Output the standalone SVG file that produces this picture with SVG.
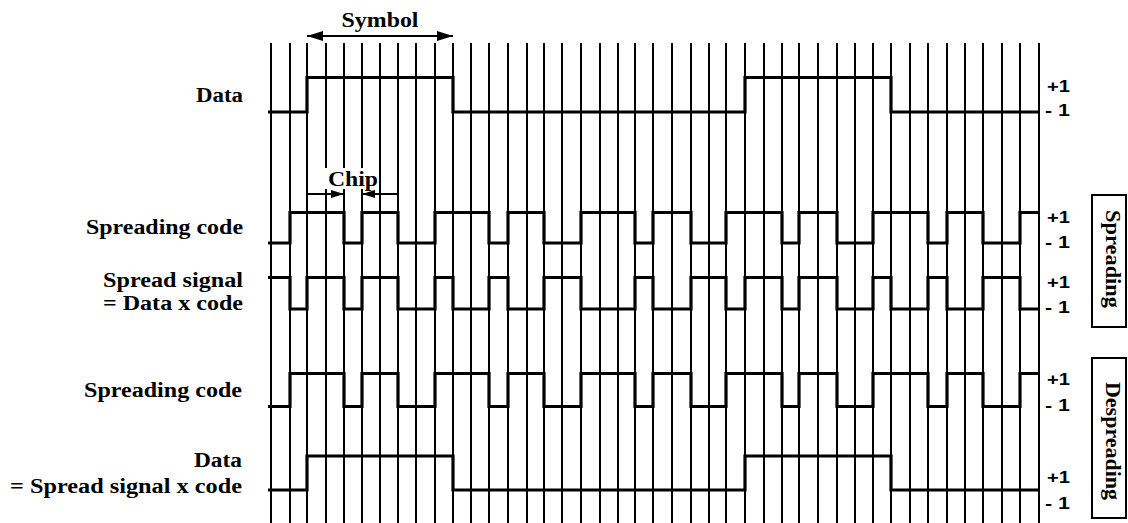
<svg xmlns="http://www.w3.org/2000/svg" width="1128" height="523" viewBox="0 0 1128 523">
<style>
.grid line{stroke:#000;stroke-width:2}
.wave{fill:none;stroke:#000;stroke-width:3.2;stroke-linejoin:miter}
.lbl{font-family:"Liberation Serif","Times New Roman",serif;font-weight:bold;font-size:20px;fill:#000}
.lvl{font-family:"Liberation Sans",Arial,sans-serif;font-weight:bold;font-size:17px;fill:#000}
.arr{stroke:#000;stroke-width:2;fill:none}
.box{fill:#fff;stroke:#000;stroke-width:2}
</style>
<defs>
<marker id="ah" viewBox="0 0 16 10" refX="16" refY="5" markerWidth="16" markerHeight="10" markerUnits="userSpaceOnUse" orient="auto">
<path d="M0,0 L16,5 L0,10 Z" fill="#000"/>
</marker>
<marker id="ahs" viewBox="0 0 13 8" refX="13" refY="4" markerWidth="13" markerHeight="8" markerUnits="userSpaceOnUse" orient="auto">
<path d="M0,0 L13,4 L0,8 Z" fill="#000"/>
</marker>
</defs>
<rect width="1128" height="523" fill="#fff"/>
<g id="grid" class="grid">
<line x1="271" y1="43" x2="271" y2="523"/><line x1="290" y1="43" x2="290" y2="523"/><line x1="307" y1="43" x2="307" y2="523"/><line x1="326" y1="43" x2="326" y2="523"/><line x1="344" y1="43" x2="344" y2="523"/><line x1="362" y1="43" x2="362" y2="523"/><line x1="380" y1="43" x2="380" y2="523"/><line x1="398" y1="43" x2="398" y2="523"/><line x1="416" y1="43" x2="416" y2="523"/><line x1="435" y1="43" x2="435" y2="523"/><line x1="453" y1="43" x2="453" y2="523"/><line x1="471" y1="43" x2="471" y2="523"/><line x1="489" y1="43" x2="489" y2="523"/><line x1="508" y1="43" x2="508" y2="523"/><line x1="527" y1="43" x2="527" y2="523"/><line x1="544" y1="43" x2="544" y2="523"/><line x1="562" y1="43" x2="562" y2="523"/><line x1="581" y1="43" x2="581" y2="523"/><line x1="600" y1="43" x2="600" y2="523"/><line x1="618" y1="43" x2="618" y2="523"/><line x1="635" y1="43" x2="635" y2="523"/><line x1="653" y1="43" x2="653" y2="523"/><line x1="672" y1="43" x2="672" y2="523"/><line x1="691" y1="43" x2="691" y2="523"/><line x1="709" y1="43" x2="709" y2="523"/><line x1="726" y1="43" x2="726" y2="523"/><line x1="745" y1="43" x2="745" y2="523"/><line x1="764" y1="43" x2="764" y2="523"/><line x1="782" y1="43" x2="782" y2="523"/><line x1="799" y1="43" x2="799" y2="523"/><line x1="818" y1="43" x2="818" y2="523"/><line x1="837" y1="43" x2="837" y2="523"/><line x1="855" y1="43" x2="855" y2="523"/><line x1="873" y1="43" x2="873" y2="523"/><line x1="891" y1="43" x2="891" y2="523"/><line x1="910" y1="43" x2="910" y2="523"/><line x1="928" y1="43" x2="928" y2="523"/><line x1="947" y1="43" x2="947" y2="523"/><line x1="965" y1="43" x2="965" y2="523"/><line x1="983" y1="43" x2="983" y2="523"/><line x1="1002" y1="43" x2="1002" y2="523"/><line x1="1020" y1="43" x2="1020" y2="523"/><line x1="1039" y1="43" x2="1039" y2="523"/>
</g>
<g id="data-tx">
<path class="wave" d="M268,112 H307 V77.5 H453 V112 H745 V77.5 H891 V112 H1039"/>
<text class="lbl" x="243" y="101.5" text-anchor="end" textLength="47" lengthAdjust="spacingAndGlyphs">Data</text>
<text class="lvl" x="1047" y="92" textLength="23" lengthAdjust="spacingAndGlyphs">+1</text>
<text class="lvl" x="1045" y="116" textLength="25" lengthAdjust="spacingAndGlyphs">- 1</text>
</g>
<g id="code-tx">
<path class="wave" d="M268,243 H290 V212.5 H344 V243 H362 V212.5 H398 V243 H435 V212.5 H489 V243 H508 V212.5 H544 V243 H581 V212.5 H635 V243 H653 V212.5 H691 V243 H726 V212.5 H782 V243 H799 V212.5 H837 V243 H873 V212.5 H928 V243 H947 V212.5 H983 V243 H1020 V212.5 H1039"/>
<text class="lbl" x="243" y="234" text-anchor="end" textLength="157" lengthAdjust="spacingAndGlyphs">Spreading code</text>
<text class="lvl" x="1047" y="223" textLength="23" lengthAdjust="spacingAndGlyphs">+1</text>
<text class="lvl" x="1045" y="248" textLength="25" lengthAdjust="spacingAndGlyphs">- 1</text>
</g>
<g id="spread-signal">
<path class="wave" d="M268,277.5 H290 V309 H307 V277.5 H344 V309 H362 V277.5 H398 V309 H435 V277.5 H453 V309 H489 V277.5 H508 V309 H544 V277.5 H581 V309 H635 V277.5 H653 V309 H691 V277.5 H726 V309 H745 V277.5 H782 V309 H799 V277.5 H837 V309 H873 V277.5 H891 V309 H928 V277.5 H947 V309 H983 V277.5 H1020 V309 H1039"/>
<text class="lbl" x="243" y="286.5" text-anchor="end" textLength="140" lengthAdjust="spacingAndGlyphs">Spread signal</text>
<text class="lbl" x="243" y="310" text-anchor="end" textLength="140" lengthAdjust="spacingAndGlyphs">= Data x code</text>
<text class="lvl" x="1047" y="288" textLength="23" lengthAdjust="spacingAndGlyphs">+1</text>
<text class="lvl" x="1045" y="313" textLength="25" lengthAdjust="spacingAndGlyphs">- 1</text>
</g>
<g id="code-rx">
<path class="wave" d="M268,406.5 H290 V373.5 H344 V406.5 H362 V373.5 H398 V406.5 H435 V373.5 H489 V406.5 H508 V373.5 H544 V406.5 H581 V373.5 H635 V406.5 H653 V373.5 H691 V406.5 H726 V373.5 H782 V406.5 H799 V373.5 H837 V406.5 H873 V373.5 H928 V406.5 H947 V373.5 H983 V406.5 H1020 V373.5 H1039"/>
<text class="lbl" x="242" y="397" text-anchor="end" textLength="158" lengthAdjust="spacingAndGlyphs">Spreading code</text>
<text class="lvl" x="1047" y="385" textLength="23" lengthAdjust="spacingAndGlyphs">+1</text>
<text class="lvl" x="1045" y="411" textLength="25" lengthAdjust="spacingAndGlyphs">- 1</text>
</g>
<g id="data-rx">
<path class="wave" d="M268,490 H307 V456 H453 V490 H745 V456 H891 V490 H1039"/>
<text class="lbl" x="242" y="466.5" text-anchor="end" textLength="48" lengthAdjust="spacingAndGlyphs">Data</text>
<text class="lbl" x="242" y="493" text-anchor="end" textLength="232" lengthAdjust="spacingAndGlyphs">= Spread signal x code</text>
<text class="lvl" x="1047" y="483" textLength="23" lengthAdjust="spacingAndGlyphs">+1</text>
<text class="lvl" x="1045" y="509" textLength="25" lengthAdjust="spacingAndGlyphs">- 1</text>
</g>
<g id="symbol-label">
<text class="lbl" x="380" y="26.5" text-anchor="middle" textLength="77" lengthAdjust="spacingAndGlyphs">Symbol</text>
</g>
<g id="chip-label">
<rect x="318" y="168" width="60" height="21" fill="#fff"/>
<text class="lbl" x="353" y="186" text-anchor="middle" textLength="50" lengthAdjust="spacingAndGlyphs">Chip</text>
</g>
<g id="spreading-box">
<rect class="box" x="1092" y="195" width="34" height="132"/>
<text class="lbl" transform="translate(1106,259) rotate(90)" text-anchor="middle" textLength="98" lengthAdjust="spacingAndGlyphs">Spreading</text>
</g>
<g id="despreading-box">
<rect class="box" x="1092" y="358" width="34" height="160"/>
<text class="lbl" transform="translate(1106,441) rotate(90)" text-anchor="middle" textLength="118" lengthAdjust="spacingAndGlyphs">Despreading</text>
</g>
<g id="connectors">
<line class="arr" x1="380" y1="36" x2="307" y2="36" marker-end="url(#ah)"/>
<line class="arr" x1="380" y1="36" x2="453" y2="36" marker-end="url(#ah)"/>
<line class="arr" x1="307" y1="194" x2="344" y2="194" marker-end="url(#ahs)"/>
<line class="arr" x1="398" y1="194" x2="362" y2="194" marker-end="url(#ahs)"/>
</g>
</svg>
